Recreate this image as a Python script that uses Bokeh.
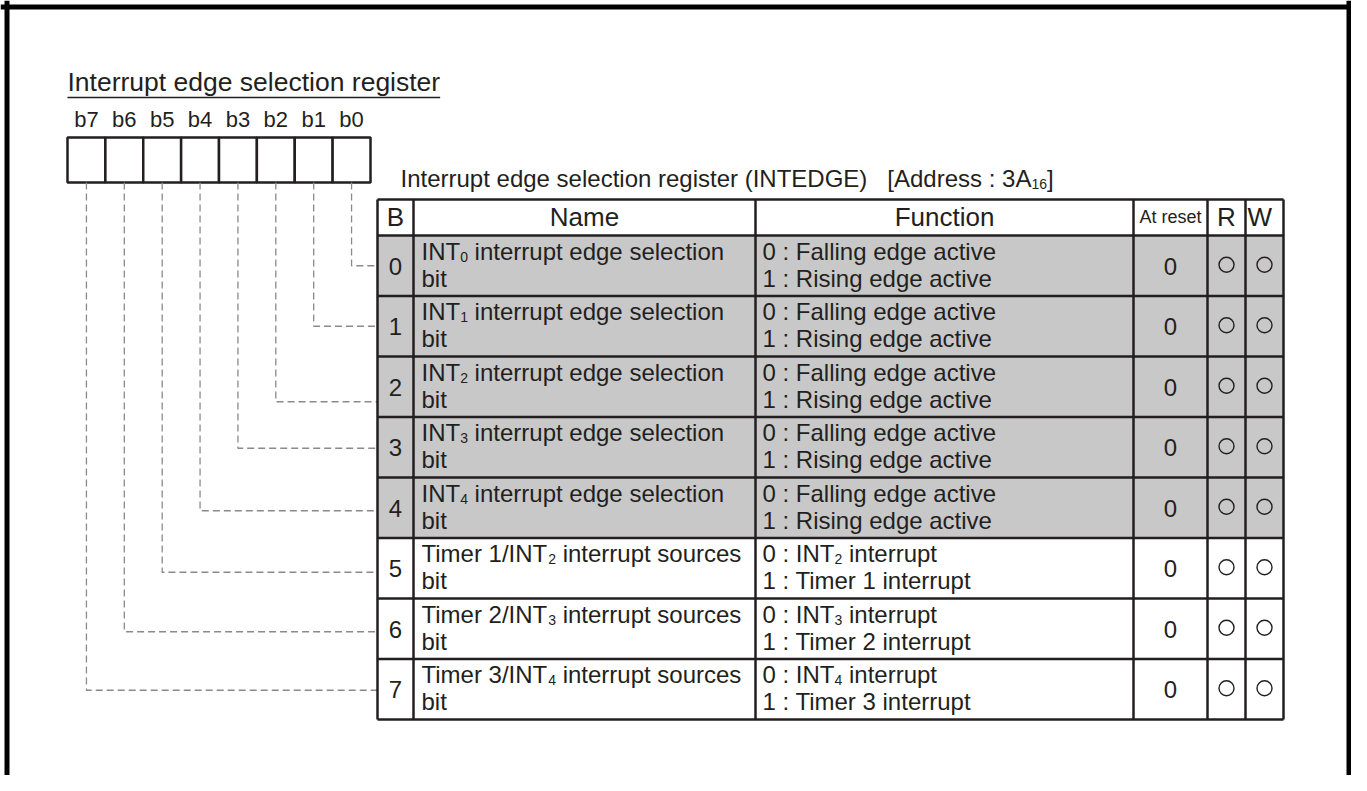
from bokeh.plotting import figure
from bokeh.models import Range1d
from bokeh.core.properties import value
from bokeh.embed import file_html
from bokeh.resources import INLINE

# ---------------- data ----------------
title = "Interrupt edge selection register"
bit_labels = ["b7", "b6", "b5", "b4", "b3", "b2", "b1", "b0"]
caption_main = "Interrupt edge selection register (INTEDGE)"
caption_addr = "[Address : 3A"
caption_sub = "16"
caption_end = "]"
headers = ["B", "Name", "Function", "At reset", "R", "W"]
bits = [0, 1, 2, 3, 4, 5, 6, 7]
name_pre = ["INT", "INT", "INT", "INT", "INT", "Timer 1/INT", "Timer 2/INT", "Timer 3/INT"]
name_sub = ["0", "1", "2", "3", "4", "2", "3", "4"]
name_post = [" interrupt edge selection"] * 5 + [" interrupt sources"] * 3
name_line2 = ["bit"] * 8
func0_pre = ["0 : Falling edge active"] * 5 + ["0 : INT"] * 3
func0_sub = ["", "", "", "", "", "2", "3", "4"]
func0_post = ["", "", "", "", "", " interrupt", " interrupt", " interrupt"]
func1 = ["1 : Rising edge active"] * 5 + ["1 : Timer 1 interrupt", "1 : Timer 2 interrupt", "1 : Timer 3 interrupt"]
at_reset = ["0"] * 8
readable = [True] * 8
writable = [True] * 8
shaded = [True] * 5 + [False] * 3

# ---------------- layout ----------------
FONT = value("Liberation Sans")
INK = "#231f20"
GRAY = "#c8c8c8"
DASH = "#8a8a8a"
col_x = [377, 413, 755, 1133, 1207, 1245, 1283]
tbl_top, hdr_bot, row_h = 199, 235, 60.5
box_l, box_r, box_t, box_b = 67, 370, 137, 182
box_w = (box_r - box_l) / 8
leader_off = [0, 0, 15, 1, 3, 4, 3, 1]
BODY, SUB = 24, 14

AW = {' ': 278, '!': 278, '(': 333, ')': 333, '/': 278, ':': 278, '[': 278, ']': 278,
      'A': 667, 'B': 667, 'C': 722, 'D': 722, 'E': 667, 'F': 611, 'G': 778, 'H': 722, 'I': 278,
      'J': 500, 'K': 667, 'L': 556, 'M': 833, 'N': 722, 'O': 778, 'P': 667, 'Q': 778, 'R': 722,
      'S': 667, 'T': 611, 'U': 722, 'V': 667, 'W': 944, 'X': 667, 'Y': 667, 'Z': 611,
      'a': 556, 'b': 556, 'c': 500, 'd': 556, 'e': 556, 'f': 278, 'g': 556, 'h': 556, 'i': 222,
      'j': 222, 'k': 500, 'l': 222, 'm': 833, 'n': 556, 'o': 556, 'p': 556, 'q': 556, 'r': 333,
      's': 500, 't': 278, 'u': 556, 'v': 500, 'w': 722, 'x': 500, 'y': 500, 'z': 500}


def tw(s, size):
    return sum(AW.get(c, 556) for c in s) * size / 1000.0


W, H = 1351, 775
p = figure(width=W, height=H, output_backend="svg", toolbar_location=None,
           x_range=Range1d(0, W), y_range=Range1d(H, 0),
           x_axis_type=None, y_axis_type=None, min_border=0,
           background_fill_color="white", border_fill_color="white")
p.grid.visible = False
p.outline_line_color = None


def txt(x, y, s, size, align="left"):
    # y is the desired alphabetic baseline; compensate renderer offset
    lead = len(s) - len(s.lstrip(" "))
    if lead and align == "left":
        x += tw(s[:lead], size)
        s = s.lstrip(" ")
    p.text(x=[x], y=[y - 0.35 * size], text=[s], text_font=FONT, text_font_size=value(f"{size}px"),
           text_color=INK, text_align=align, text_baseline="alphabetic")


def rich(x, y, parts, size, sub_size):
    cx = x
    for s, is_sub in parts:
        if not s:
            continue
        if is_sub:
            txt(cx, y + 2, s, sub_size)
            cx += tw(s, sub_size)
        else:
            txt(cx, y, s, size)
            cx += tw(s, size)


# outer frame (left, top, right)
p.segment(x0=[6.5, 0, 1348.5], y0=[0, 6.5, 0], x1=[6.5, W, 1348.5], y1=[H, 6.5, H],
          line_color="black", line_width=5)

# title + underline
txt(box_l, 91, title, 26.5)
p.segment(x0=[box_l], y0=[97], x1=[box_l + tw(title, 26.5)], y1=[97], line_color=INK, line_width=1.5)

# bit labels and boxes
for i, lab in enumerate(bit_labels):
    txt(box_l + box_w * (i + 0.5), 127, lab, 22, align="center")
p.quad(left=[box_l + box_w * i for i in range(8)], right=[box_l + box_w * (i + 1) for i in range(8)],
       top=[box_t] * 8, bottom=[box_b] * 8, fill_color="white", line_color=INK, line_width=2.5)

# caption
txt(400, 186, caption_main, BODY)
rich(400 + tw(caption_main, BODY) + 20, 186,
     [(caption_addr, False), (caption_sub, True), (caption_end, False)], BODY, SUB)

# shaded rows
row_top = [hdr_bot + row_h * b for b in bits]
sh_b = [b for b in bits if shaded[b]]
p.quad(left=[col_x[0]] * len(sh_b), right=[col_x[-1]] * len(sh_b),
       top=[row_top[b] for b in sh_b], bottom=[row_top[b] + row_h for b in sh_b],
       fill_color=GRAY, line_color=None)

# leader lines
xs, ys = [], []
for b in bits:
    cx = box_l + box_w * (7 - b + 0.5)
    ly = row_top[b] + row_h / 2 + leader_off[b]
    xs.append([cx, cx, col_x[0]])
    ys.append([box_b, ly, ly])
p.multi_line(xs=xs, ys=ys, line_color=DASH, line_width=1.3, line_dash="7 4")

# table grid
tbl_bot = hdr_bot + row_h * len(bits)
hy = [tbl_top, hdr_bot] + [row_top[b] + row_h for b in bits]
p.segment(x0=[col_x[0]] * len(hy), y0=hy, x1=[col_x[-1]] * len(hy), y1=hy, line_color=INK, line_width=2.5)
p.segment(x0=col_x, y0=[tbl_top] * len(col_x), x1=col_x, y1=[tbl_bot] * len(col_x),
          line_color=INK, line_width=2.5)

# header texts
hb = (tbl_top + hdr_bot) / 2 + 9
txt((col_x[0] + col_x[1]) / 2, hb, headers[0], 26, align="center")
txt((col_x[1] + col_x[2]) / 2, hb, headers[1], 26, align="center")
txt((col_x[2] + col_x[3]) / 2, hb, headers[2], 26, align="center")
txt((col_x[3] + col_x[4]) / 2, hb - 3, headers[3], 18, align="center")
txt((col_x[4] + col_x[5]) / 2, hb, headers[4], 26, align="center")
txt(col_x[5] + 2, hb, headers[5], 26, align="left")

# rows
for b in bits:
    t = row_top[b]
    txt((col_x[0] + col_x[1]) / 2, t + 39, str(b), BODY, align="center")
    rich(col_x[1] + 8, t + 24, [(name_pre[b], False), (name_sub[b], True), (name_post[b], False)], BODY, SUB)
    txt(col_x[1] + 8, t + 51, name_line2[b], BODY)
    rich(col_x[2] + 7, t + 24, [(func0_pre[b], False), (func0_sub[b], True), (func0_post[b], False)], BODY, SUB)
    txt(col_x[2] + 7, t + 51, func1[b], BODY)
    txt((col_x[3] + col_x[4]) / 2, t + 39, at_reset[b], BODY, align="center")

rx = [(col_x[4] + col_x[5]) / 2 for b in bits if readable[b]]
ry = [row_top[b] + row_h / 2 - 1 for b in bits if readable[b]]
wx = [(col_x[5] + col_x[6]) / 2 for b in bits if writable[b]]
wy = [row_top[b] + row_h / 2 - 1 for b in bits if writable[b]]
p.scatter(x=rx + wx, y=ry + wy, marker="circle", size=15, fill_color=None, line_color=INK, line_width=1.4)

open("out.html", "w").write(file_html(p, INLINE))
